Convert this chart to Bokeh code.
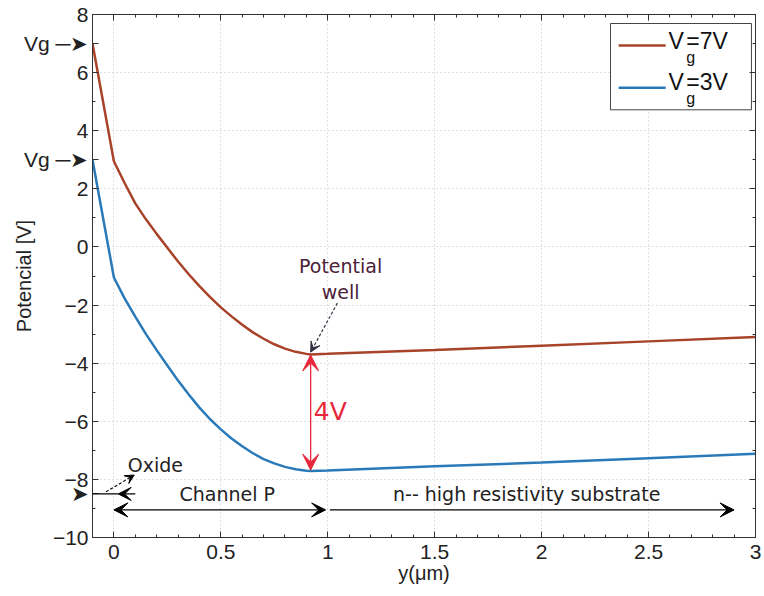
from bokeh.plotting import figure
from bokeh.models import (Range1d, LinearAxis, SingleIntervalTicker, FixedTicker,
                          CustomJSTickFormatter, CustomLabelingPolicy, Label, Arrow, VeeHead,
                          ColumnDataSource)
from bokeh.embed import file_html
from bokeh.resources import INLINE

# ---- data ----
y_um = [-0.1, 0.0, 0.05, 0.1, 0.15, 0.2, 0.25, 0.3, 0.35, 0.4, 0.45, 0.5, 0.55, 0.6,
        0.65, 0.7, 0.75, 0.8, 0.85, 0.9, 0.92, 1.0, 1.5, 2.0, 2.5, 3.0]
pot_vg7 = [7.0, 2.95, 2.2, 1.5, 0.95, 0.45, -0.03, -0.5, -0.94, -1.35, -1.73, -2.08, -2.39, -2.68,
           -2.94, -3.16, -3.35, -3.5, -3.61, -3.68, -3.70, -3.68, -3.55, -3.40, -3.25, -3.10]
pot_vg3 = [3.0, -1.05, -1.77, -2.4, -3.0, -3.55, -4.08, -4.6, -5.08, -5.53, -5.93, -6.28, -6.59, -6.86,
           -7.1, -7.3, -7.45, -7.57, -7.65, -7.70, -7.71, -7.69, -7.55, -7.42, -7.27, -7.12]
gate_voltages = [7, 3]
series_labels = ["=7V", "=3V"]
y_ticks = [-10, -8, -6, -4, -2, 0, 2, 4, 6, 8]
x_label = "y(\u03bcm)"
y_label = "Potencial [V]"

RED = "#a8432a"
BLUE = "#2a7ab9"
ARROW_RED = "#e8283a"
TICK_FONT = "Liberation Sans"
ANN_FONT = "DejaVu Sans"
OXIDE_Y = -8.5

p = figure(width=764, height=596, x_range=Range1d(-0.1, 3), y_range=Range1d(-10, 8),
           output_backend="svg", toolbar_location=None,
           min_border_left=92, min_border_right=9, min_border_top=14, min_border_bottom=59)
p.background_fill_color = "white"
p.border_fill_color = "white"
p.outline_line_color = "#333333"

bottom = p.below[0]
left = p.left[0]

xt = SingleIntervalTicker(interval=0.5, num_minor_ticks=5)
yt = SingleIntervalTicker(interval=2, num_minor_ticks=2)
# left axis also carries the "Vg" gate markers and the oxide arrow head
left_ticks = y_ticks + gate_voltages + [OXIDE_Y]
left_minor = [v + 1 for v in y_ticks[:-1]]
lt = FixedTicker(ticks=left_ticks, minor_ticks=left_minor)

bottom.ticker = xt
left.ticker = lt
bottom.formatter = CustomJSTickFormatter(code="return String(tick);")
left.formatter = CustomJSTickFormatter(code="""
if (tick == 7 || tick == 3) { return 'Vg \u2500\u27a4'; }
if (tick == -8.5) { return '\u27a4'; }
return String(tick).replace('-', '\u2212');
""")

no_labels = CustomLabelingPolicy(code="""
for (const i of Array.from(indices)) { indices.unset(i); }
return indices;
""")
top = LinearAxis(ticker=xt, major_label_policy=no_labels)
right = LinearAxis(ticker=yt, major_label_policy=no_labels)
p.add_layout(top, "above")
p.add_layout(right, "right")

for ax in [bottom, left, top, right]:
    ax.axis_line_color = "#333333"
    ax.major_tick_line_color = "#333333"
    ax.minor_tick_line_color = "#333333"
    ax.major_tick_in = 6
    ax.major_tick_out = 0
    ax.minor_tick_in = 3
    ax.minor_tick_out = 0
    ax.major_label_text_font = TICK_FONT
    ax.major_label_text_font_size = "21px"
    ax.major_label_text_color = "#222222"
    ax.axis_label_text_font = TICK_FONT
    ax.axis_label_text_font_size = "20px"
    ax.axis_label_text_font_style = "normal"
    ax.axis_label_text_color = "#222222"

for ax in [top, right]:
    ax.major_label_text_font_size = "0px"
    ax.major_label_standoff = 0

bottom.axis_label = x_label
left.axis_label = y_label
bottom.major_label_standoff = 7
bottom.axis_label_standoff = 0
left.major_label_standoff = 4
left.axis_label_standoff = -14

p.xgrid[0].ticker = xt
p.ygrid[0].ticker = yt
for g in [p.xgrid[0], p.ygrid[0]]:
    g.grid_line_color = "#c4c4c4"
    g.grid_line_dash = "1 3"
    g.grid_line_width = 1

src = ColumnDataSource(dict(x=y_um, a=pot_vg7, b=pot_vg3))
p.line("x", "a", source=src, line_color=RED, line_width=2.5)
p.line("x", "b", source=src, line_color=BLUE, line_width=2.5)

# ---- legend (manual, to get the subscript) ----
p.quad(left=[2.322], right=[2.981], top=[7.69], bottom=[4.72],
       fill_color="white", line_color="#444444", line_width=1)
p.segment(x0=[2.36, 2.36], x1=[2.58, 2.58], y0=[6.93, 5.48], y1=[6.93, 5.48],
          line_color=[RED, BLUE], line_width=2.5)
for yv, ys, lab in [(7.1, 6.52, series_labels[0]), (5.69, 5.12, series_labels[1])]:
    p.add_layout(Label(x=2.593, y=yv, text="V", text_font=TICK_FONT, text_font_size="23px",
                       text_baseline="middle", text_align="left", text_color="#111111"))
    p.add_layout(Label(x=2.676, y=ys, text="g", text_font=TICK_FONT, text_font_size="16px",
                       text_baseline="middle", text_align="left", text_color="#111111"))
    p.add_layout(Label(x=2.676, y=yv, text=lab, text_font=TICK_FONT, text_font_size="23px",
                       text_baseline="middle", text_align="left", text_color="#111111"))

# ---- annotations ----
def vee(color, size):
    return VeeHead(size=size, fill_color=color, line_color=color)

# Potential well
p.add_layout(Label(x=1.06, y=-0.66, text="Potential", text_font=ANN_FONT, text_font_size="19px",
                   text_baseline="middle", text_align="center", text_color="#4b2238"))
p.add_layout(Label(x=1.06, y=-1.55, text="well", text_font=ANN_FONT, text_font_size="19px",
                   text_baseline="middle", text_align="center", text_color="#4b2238"))
p.add_layout(Arrow(x_start=1.045, y_start=-1.93, x_end=0.92, y_end=-3.62,
                   end=vee("#333344", 10), line_color="#333344", line_width=1.2, line_dash="3 2"))

# 4V double arrow
p.add_layout(Arrow(x_start=0.92, y_start=-3.72, x_end=0.92, y_end=-7.68,
                   start=vee(ARROW_RED, 16), end=vee(ARROW_RED, 16),
                   line_color=ARROW_RED, line_width=1.3))
p.add_layout(Label(x=0.935, y=-5.66, text="4V", text_font=ANN_FONT, text_font_size="25px",
                   text_baseline="middle", text_align="left", text_color=ARROW_RED))

# Oxide
p.add_layout(Label(x=0.065, y=-7.5, text="Oxide", text_font=ANN_FONT, text_font_size="19px",
                   text_baseline="middle", text_align="left", text_color="#222222"))
p.add_layout(Arrow(x_start=-0.037, y_start=-8.43, x_end=0.095, y_end=-7.85,
                   end=vee("black", 9), line_color="black", line_width=1.1, line_dash="3 2"))
p.add_layout(Arrow(x_start=0.10, y_start=OXIDE_Y, x_end=0.02, y_end=OXIDE_Y,
                   end=vee("black", 13), line_color="black", line_width=1.2))
p.add_layout(Arrow(x_start=-0.1, y_start=OXIDE_Y, x_end=0.02, y_end=OXIDE_Y,
                   end=None, line_color="black", line_width=1.2))

# Channel P
p.add_layout(Arrow(x_start=0.0, y_start=-9.05, x_end=0.99, y_end=-9.05,
                   start=vee("black", 14), end=vee("black", 14), line_color="black", line_width=1.1))
p.add_layout(Label(x=0.53, y=-8.5, text="Channel P", text_font=ANN_FONT, text_font_size="19px",
                   text_baseline="middle", text_align="center", text_color="#222222"))

# substrate
p.add_layout(Arrow(x_start=1.01, y_start=-9.05, x_end=2.9, y_end=-9.05,
                   end=vee("black", 14), line_color="black", line_width=1.1))
p.add_layout(Label(x=1.93, y=-8.5, text="n-- high resistivity substrate", text_font=ANN_FONT,
                   text_font_size="19px", text_baseline="middle", text_align="center",
                   text_color="#222222"))

open("out.html", "w").write(file_html(p, INLINE))
